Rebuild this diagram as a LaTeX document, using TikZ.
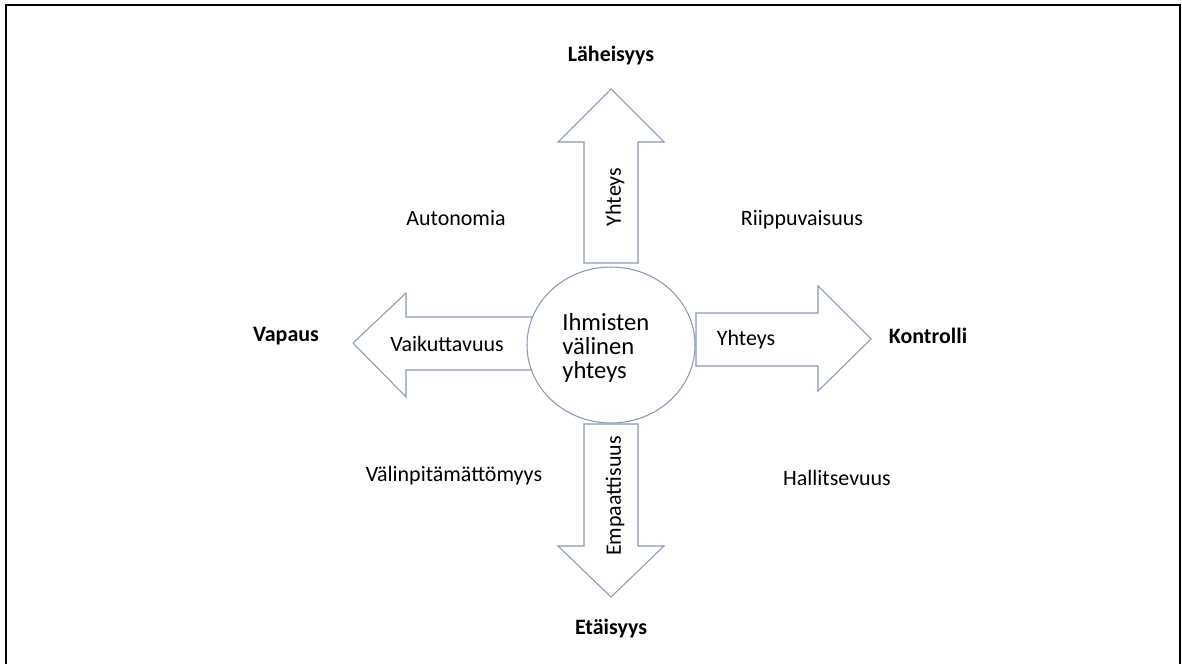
\documentclass[tikz,border=0pt]{standalone}
\usepackage{fontspec}
\setmainfont{Carlito}
\usepackage{tikz}
\usetikzlibrary{positioning}
\definecolor{shapeline}{HTML}{8A9AB2}
\tikzset{
  blockarrow/.style={draw=shapeline, line width=0.6pt, fill=white, line join=miter},
  polenode/.style={font=\fontsize{12.5}{15}\selectfont\bfseries, inner sep=0pt},
  quadnote/.style={font=\fontsize{12.5}{15}\selectfont, inner sep=0pt},
  inlabel/.style={font=\fontsize{12.5}{15}\selectfont, inner sep=0pt},
  hublabel/.style={font=\fontsize{14}{13.8}\selectfont, inner sep=0pt, align=left}
}
\begin{document}
\begin{tikzpicture}[x=0.02cm, y=-0.02cm]
  \useasboundingbox (0,0) rectangle (1182,663);
  \draw[line width=1.3pt] (6,670) -- (6,5) -- (1180,5) -- (1180,670);

  % block arrows round the hub
  \draw[blockarrow] (584,263) -- (584,142) -- (558,142) -- (611,89) -- (664,142) -- (638,142) -- (638,263) -- cycle;
  \draw[blockarrow] (584,424) -- (638,424) -- (638,546) -- (664,546) -- (611,597) -- (558,546) -- (584,546) -- cycle;
  \draw[blockarrow] (532,317) -- (406,317) -- (406,293) -- (353,343) -- (406,397) -- (406,370) -- (532,370) -- cycle;
  \draw[blockarrow] (696,313) -- (818,313) -- (818,286) -- (871,339) -- (818,391) -- (818,366) -- (696,366) -- cycle;
  \draw[blockarrow] (611,345) ellipse [x radius=84, y radius=78];

  \node[hublabel, anchor=west] (hub) at (562,348) {Ihmisten\\välinen\\yhteys};

  % texts inside the arrows
  \node[inlabel, rotate=90] (upin) at (615,197) {Yhteys};
  \node[inlabel, rotate=90] (downin) at (615,496) {Empaattisuus};
  \node[inlabel] (leftin) at (447,344) {Vaikuttavuus};
  \node[inlabel] (rightin) at (746,340) {Yhteys};

  % poles
  \node[polenode] (top) at (611,56) {Läheisyys};
  \node[polenode] (bottom) at (611,629) {Etäisyys};
  \node[polenode] (left) at (286,336) {Vapaus};
  \node[polenode] (right) at (928,336) {Kontrolli};

  % quadrants
  \node[quadnote] (nw) at (456,218) {Autonomia};
  \node[quadnote] (ne) at (802,220) {Riippuvaisuus};
  \node[quadnote] (sw) at (454,476) {Välinpitämättömyys};
  \node[quadnote] (se) at (837,478) {Hallitsevuus};
\end{tikzpicture}
\end{document}
